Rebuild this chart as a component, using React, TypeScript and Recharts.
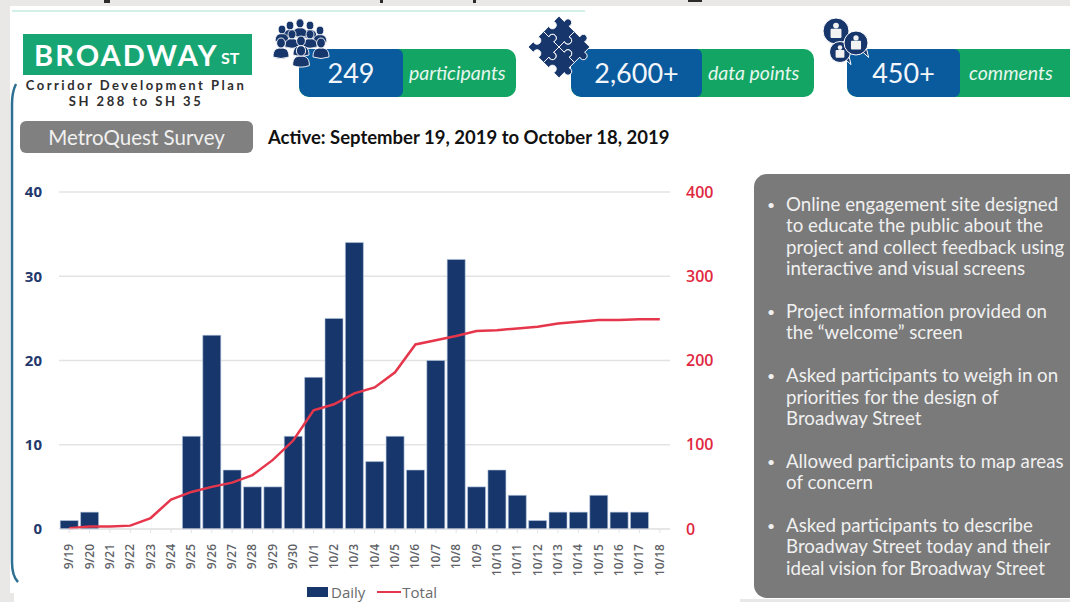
import { Bar, CartesianGrid, ComposedChart, Legend, Line, XAxis, YAxis } from 'recharts';

const dates = ['9/19', '9/20', '9/21', '9/22', '9/23', '9/24', '9/25', '9/26', '9/27', '9/28', '9/29', '9/30', '10/1', '10/2', '10/3', '10/4', '10/5', '10/6', '10/7', '10/8', '10/9', '10/10', '10/11', '10/12', '10/13', '10/14', '10/15', '10/16', '10/17', '10/18'];
const daily = [1, 2, 0, 0, 0, 0, 11, 23, 7, 5, 5, 11, 18, 25, 34, 8, 11, 7, 20, 32, 5, 7, 4, 1, 2, 2, 4, 2, 2, 0];
const total = [1, 3, 3, 4, 13, 35, 44, 50, 55, 64, 82, 105, 141, 148, 161, 168, 186, 219, 224, 229, 235, 236, 238, 240, 244, 246, 248, 248, 249, 249];
const dailyTicks = [0, 10, 20, 30, 40];
const totalTicks = [0, 100, 200, 300, 400];

const bullets = [
  ['Online engagement site designed', 'to educate the public about the', 'project and collect feedback using', 'interactive and visual screens'],
  ['Project information provided on', 'the “welcome” screen'],
  ['Asked participants to weigh in on', 'priorities for the design of', 'Broadway Street'],
  ['Allowed participants to map areas', 'of concern'],
  ['Asked participants to describe', 'Broadway Street today and their', 'ideal vision for Broadway Street'],
];

const pills = [
  { value: '249', label: 'participants', left: 299, split: 403, right: 516, pad: 6 },
  { value: '2,600+', label: 'data points', left: 571, split: 702, right: 814, pad: 6 },
  { value: '450+', label: 'comments', left: 847, split: 960, right: 1090, pad: 9 },
];

const rows = dates.map((date, i) => ({ date, Daily: daily[i], Total: total[i] }));

const NAVY = '#17366b';
const RED = '#e5364c';
const FONT = 'Lato, "Open Sans", sans-serif';

const DateTick = ({ x, y, payload }: any) => (
  <g transform={`translate(${x},${y})`}>
    <text transform="rotate(-90)" x={-9} y={4} textAnchor="end" fontSize={12} fontWeight={600} fontFamily='"Open Sans"' fill="#5f6368">
      {payload.value}
    </text>
  </g>
);

const LegendContent = ({ payload }: any) => (
  <div style={{ display: 'flex', alignItems: 'center', height: 20, fontFamily: '"Open Sans"', fontSize: 15, color: '#6a6a6a' }}>
    {(payload ?? []).map((entry: any) => (
      <div key={entry.value} style={{ display: 'flex', alignItems: 'center', marginRight: 12 }}>
        {entry.type === 'line'
          ? <span style={{ width: 24, height: 2, background: entry.color, marginRight: 1 }} />
          : <span style={{ width: 21, height: 10, background: entry.color, marginRight: 3 }} />}
        {entry.value}
      </div>
    ))}
  </div>
);

const Person = ({ x, y, s = 1, fill = NAVY }: any) => (
  <g transform={`translate(${x},${y}) scale(${s})`} fill={fill} stroke="#fff" strokeWidth={0.9}>
    <path d="M-8 11 C-8 3 -4 2 0 2 C4 2 8 3 8 11 Q0 14 -8 11Z" />
    <ellipse cx={0} cy={-3} rx={4.4} ry={5} />
  </g>
);

const PeopleIcon = () => (
  <g>
    <Person x={290} y={28} s={0.85} />
    <Person x={310} y={28} s={0.85} />
    <Person x={300} y={26} s={0.9} />
    <Person x={282} y={32} s={0.85} />
    <Person x={320} y={33} s={0.85} />
    <Person x={292} y={37} s={0.9} />
    <Person x={310} y={37} s={0.9} />
    <Person x={281} y={46} />
    <Person x={321} y={46} />
    <Person x={301} y={44} />
    <Person x={301} y={54} s={1.05} />
  </g>
);

const piece = 'M-13 -13 H-4 a4.5 4.5 0 1 1 8 0 H13 V-4 a4.5 4.5 0 1 1 0 8 V13 H4 a4.5 4.5 0 1 0 -8 0 H-13 V4 a4.5 4.5 0 1 0 0 -8Z';

const PuzzleIcon = () => (
  <g transform="translate(559,47) rotate(45) scale(0.84)" fill={NAVY} stroke="#fff" strokeWidth={1.1}>
    <path d={piece} transform="translate(-13,-13)" />
    <path d={piece} transform="translate(13,-13)" />
    <path d={piece} transform="translate(-13,13)" />
    <path d={piece} transform="translate(13,13)" />
  </g>
);

const Bubble = ({ x, y, r }: any) => (
  <g transform={`translate(${x},${y})`}>
    <path d={`M${r * 0.5} ${r * 0.7} L${r * 1.05} ${r * 1.2} L${r * 0.85} ${r * 0.35}Z`} fill={NAVY} stroke="#fff" strokeWidth={1} />
    <circle r={r} fill={NAVY} stroke="#fff" strokeWidth={1} />
    <circle cy={-r * 0.42} r={r * 0.22} fill="#f2f2f2" />
    <rect x={-r * 0.42} y={-r * 0.18} width={r * 0.84} height={r * 0.72} rx={1} fill="#f2f2f2" />
  </g>
);

const ChatIcon = () => (
  <g>
    <Bubble x={836} y={31} r={13} />
    <Bubble x={840} y={52} r={10.5} />
    <Bubble x={856} y={43} r={12} />
  </g>
);

export default function App() {
  return (
    <div style={{ position: 'absolute', left: 0, top: 0, width: 1070, height: 602, overflow: 'hidden', background: '#e9e8e6', fontFamily: FONT }}>
      <div style={{ position: 'absolute', left: 10, top: 6, width: 1060, height: 587, background: '#fff' }} />
      <div style={{ position: 'absolute', left: 14, top: 593, width: 726, height: 9, background: '#fff' }} />
      <div style={{ position: 'absolute', left: 740, top: 593, width: 330, height: 6, background: '#fff' }} />

      <svg width={1070} height={602} style={{ position: 'absolute', left: 0, top: 0 }}>
        <path d="M16 84 Q12 92 12 104 V562 Q12 576 18 582" fill="none" stroke="#2e7093" strokeWidth={2.5} />
        <line x1={12} y1={11} x2={585} y2={11} stroke="#a8e2d2" strokeWidth={1} />
        <rect x={104} y={0} width={6} height={3} fill="#2b2b2b" />
        <rect x={380} y={0} width={3} height={3} fill="#2b2b2b" />
        <rect x={473} y={0} width={3} height={3} fill="#2b2b2b" />
        <rect x={688} y={0} width={14} height={2} fill="#2b2b2b" />
      </svg>

      <ComposedChart
        width={1070}
        height={602}
        data={rows}
        margin={{ top: 192, right: 0, bottom: 0, left: 0 }}
        style={{ position: 'absolute', left: 0, top: 0 }}
        barCategoryGap="6%"
      >
        <CartesianGrid yAxisId="left" vertical={false} stroke="#e3e3e3" strokeWidth={1.5} />
        <XAxis dataKey="date" height={53} interval={0} tick={<DateTick />} stroke="#e3e3e3" tickSize={4} />
        <YAxis
          yAxisId="left"
          width={59}
          domain={[0, 40]}
          ticks={dailyTicks}
          axisLine={false}
          tickLine={false}
          tickMargin={11}
          tick={{ fill: '#23386b', fontSize: 15, fontWeight: 700, fontFamily: '"Open Sans"' }}
        />
        <YAxis
          yAxisId="right"
          orientation="right"
          width={400}
          domain={[0, 400]}
          ticks={totalTicks}
          axisLine={false}
          tickLine={false}
          tickMargin={10}
          tick={{ fill: '#e0283f', fontSize: 16, fontWeight: 600, fontFamily: '"Open Sans"' }}
        />
        <Legend
          content={<LegendContent />}
          wrapperStyle={{ left: 307, width: 170, height: 20 }}
        />
        <Bar yAxisId="left" dataKey="Daily" fill={NAVY} stroke="#b5c7df" strokeWidth={0.6} legendType="rect" isAnimationActive={false} />
        <Line yAxisId="right" type="linear" dataKey="Total" stroke={RED} strokeWidth={2.5} dot={false} legendType="line" isAnimationActive={false} />
      </ComposedChart>

      <div style={{ position: 'absolute', left: 23, top: 34, width: 229, height: 41, background: '#17a673', color: '#fff', fontWeight: 700, lineHeight: '41px', whiteSpace: 'nowrap' }}>
        <span style={{ position: 'absolute', left: 11, fontSize: 29, letterSpacing: 2.1 }}>BROADWAY</span>
        <span style={{ position: 'absolute', left: 198, top: 3, fontSize: 16 }}>ST</span>
      </div>
      <div style={{ position: 'absolute', left: 10, top: 77, width: 252, textAlign: 'center', color: '#2e2e2e', fontWeight: 700, fontSize: 13, lineHeight: '16px', letterSpacing: 2.5, whiteSpace: 'nowrap' }}>
        <div>Corridor Development Plan</div>
        <div>SH 288 to SH 35</div>
      </div>
      <div style={{ position: 'absolute', left: 20, top: 121, width: 233, height: 32, borderRadius: 6, background: '#808080', color: '#f0f0f0', fontSize: 20.5, lineHeight: '32px', textAlign: 'center' }}>
        MetroQuest Survey
      </div>
      <div style={{ position: 'absolute', left: 268, top: 126, color: '#111', fontWeight: 700, fontSize: 18.5, lineHeight: '22px', whiteSpace: 'nowrap' }}>
        Active: September 19, 2019 to October 18, 2019
      </div>

      {pills.map((p) => (
        <div key={p.label} style={{ position: 'absolute', left: p.left, top: 49, width: p.right - p.left, height: 48, borderRadius: 10, overflow: 'hidden', background: '#13a563', whiteSpace: 'nowrap' }}>
          <div style={{ position: 'absolute', left: 0, top: 0, width: p.split - p.left, height: 48, borderRadius: '10px 6px 6px 10px', background: '#0a5a9e', color: '#f2f6fa', fontSize: 27, lineHeight: '48px', textAlign: 'center' }}>
            {p.value}
          </div>
          <div style={{ position: 'absolute', left: p.split - p.left + p.pad, top: 0, color: '#e6f6ee', fontStyle: 'italic', fontSize: 19.5, lineHeight: '48px' }}>
            {p.label}
          </div>
        </div>
      ))}

      <svg width={1070} height={602} style={{ position: 'absolute', left: 0, top: 0, pointerEvents: 'none' }}>
        <PeopleIcon />
        <PuzzleIcon />
        <ChatIcon />
      </svg>

      <div style={{ position: 'absolute', left: 754, top: 174, width: 340, height: 424, borderRadius: 13, background: '#7a7a7a' }} />
      <div style={{ position: 'absolute', left: 786, top: 194, color: '#f0f0f0', fontSize: 18.7, lineHeight: '21.4px', whiteSpace: 'nowrap' }}>
        {bullets.map((lines) => (
          <div key={lines[0]} style={{ position: 'relative', marginBottom: 21.4 }}>
            <span style={{ position: 'absolute', left: -19, top: 0, fontSize: 14 }}>•</span>
            {lines.map((line) => <div key={line}>{line}</div>)}
          </div>
        ))}
      </div>
    </div>
  );
}
